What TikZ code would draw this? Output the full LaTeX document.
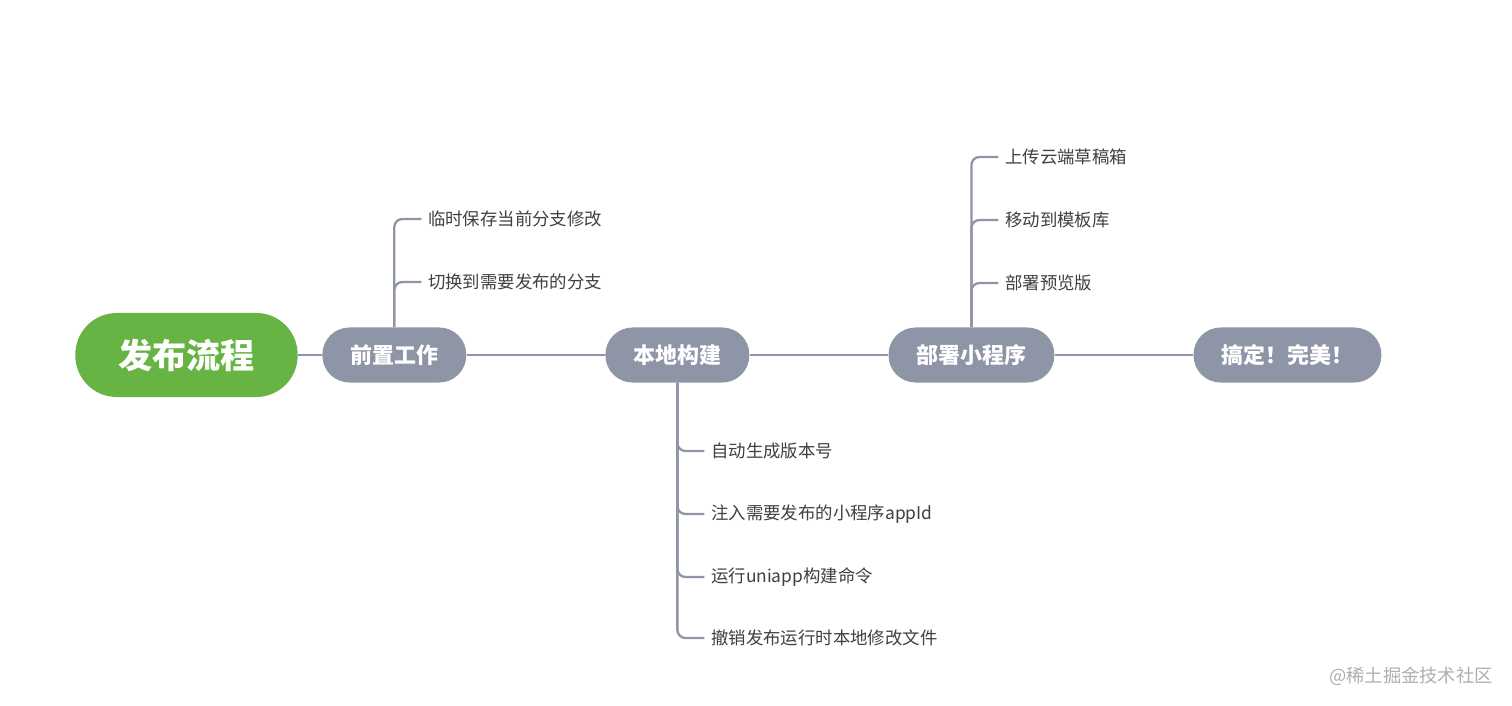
\documentclass[tikz,border=0pt]{standalone}
\usepackage{fontspec}
\setmainfont{Noto Sans CJK SC}
\usepackage{tikz}
\usetikzlibrary{positioning}
\definecolor{rootgreen}{RGB}{103,180,69}
\definecolor{stagegray}{RGB}{142,149,166}
\definecolor{leaftext}{RGB}{64,64,64}
\definecolor{markgray}{RGB}{175,175,175}
\tikzset{
  rootnode/.style={rectangle,rounded corners=0.83cm,fill=rootgreen,text=white,font=\fontsize{19.4}{23}\selectfont\bfseries,minimum height=1.68cm,inner xsep=0.86cm},
  stagenode/.style={rectangle,rounded corners=0.54cm,fill=stagegray,text=white,font=\fontsize{12.5}{15}\selectfont\bfseries,minimum height=1.1cm,inner xsep=0.56cm},
  leaf/.style={anchor=west,inner xsep=0.13cm,text=leaftext,font=\fontsize{9.9}{12}\selectfont},
  watermark/.style={anchor=east,inner sep=0pt,text=markgray,font=\fontsize{10.4}{12}\selectfont},
  link/.style={draw=stagegray,line width=1.4pt},
  twig/.style={draw=stagegray,line width=1.3pt,rounded corners=0.16cm}
}

\begin{document}
\begin{tikzpicture}[node distance=2.77cm]
  \fill[white] (0,0) rectangle (30.24,-14.12);
  \node[rootnode] (root) at (3.73,-7.1) {发布流程};
  \node[stagenode,right=0.48cm of root] (prep) {前置工作};
  \node[stagenode,right=of prep] (build) {本地构建};
  \node[stagenode,right=of build] (deploy) {部署小程序};
  \node[stagenode,right=of deploy] (done) {搞定！完美！};
  \draw[link] (root) -- (prep);
  \draw[link] (prep) -- (build);
  \draw[link] (build) -- (deploy);
  \draw[link] (deploy) -- (done);
  % 前置工作
  \node[leaf] (prep1) at ([shift={(0.54,2.72)}]prep.center) {临时保存当前分支修改};
  \node[leaf] (prep2) at ([shift={(0.54,1.46)}]prep.center) {切换到需要发布的分支};
  \draw[twig] (prep.north) |- (prep1.west);
  \draw[twig] (prep.north) |- (prep2.west);
  % 本地构建
  \node[leaf] (build1) at ([shift={(0.54,-1.92)}]build.center) {自动生成版本号};
  \node[leaf] (build2) at ([shift={(0.54,-3.18)}]build.center) {注入需要发布的小程序appId};
  \node[leaf] (build3) at ([shift={(0.54,-4.44)}]build.center) {运行uniapp构建命令};
  \node[leaf] (build4) at ([shift={(0.54,-5.66)}]build.center) {撤销发布运行时本地修改文件};
  \draw[twig] (build.south) |- (build1.west);
  \draw[twig] (build.south) |- (build2.west);
  \draw[twig] (build.south) |- (build3.west);
  \draw[twig] (build.south) |- (build4.west);
  % 部署小程序
  \node[leaf] (deploy1) at ([shift={(0.54,3.96)}]deploy.center) {上传云端草稿箱};
  \node[leaf] (deploy2) at ([shift={(0.54,2.70)}]deploy.center) {移动到模板库};
  \node[leaf] (deploy3) at ([shift={(0.54,1.44)}]deploy.center) {部署预览版};
  \draw[twig] (deploy.north) |- (deploy1.west);
  \draw[twig] (deploy.north) |- (deploy2.west);
  \draw[twig] (deploy.north) |- (deploy3.west);
  \node[watermark] (wm) at (29.86,-13.52) {@稀土掘金技术社区};
\end{tikzpicture}
\end{document}
